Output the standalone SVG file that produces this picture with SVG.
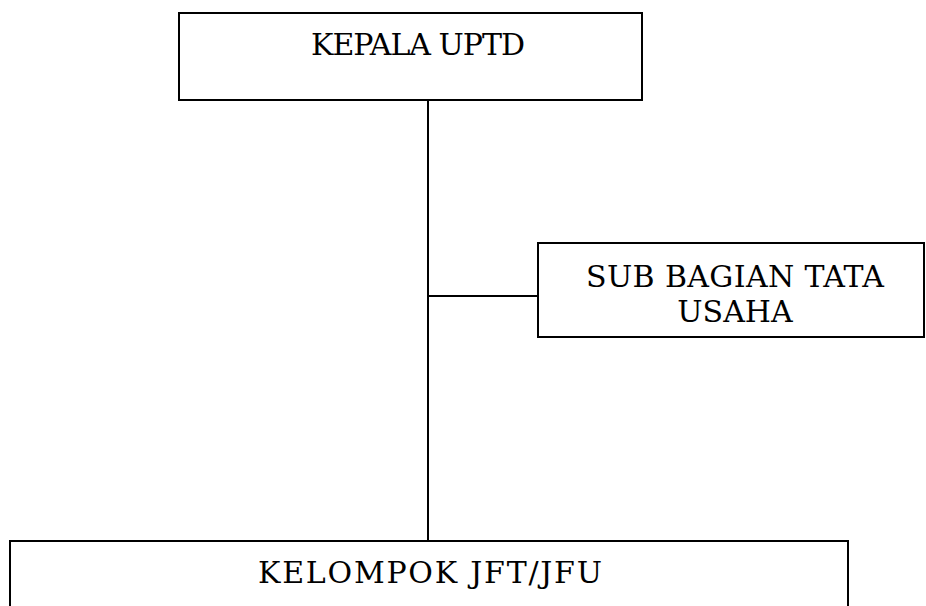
<svg xmlns="http://www.w3.org/2000/svg" width="926" height="606" viewBox="0 0 926 606">
<style>
.box{fill:#fff;stroke:#000;stroke-width:2}
.ln{stroke:#000;stroke-width:2;fill:none}
.t{font-family:"DejaVu Serif","Liberation Serif",serif;font-size:30px;fill:#000;text-anchor:middle}
</style>
<rect width="926" height="606" fill="#fff"/>
<g id="connectors">
<line class="ln" x1="428" y1="100" x2="428" y2="541"/>
<line class="ln" x1="428" y1="296" x2="538" y2="296"/>
</g>
<g id="kepala">
<rect class="box" x="179" y="13" width="463" height="87"/>
<text class="t" x="418" y="55" textLength="214">KEPALA UPTD</text>
</g>
<g id="subbagian">
<rect class="box" x="538" y="243" width="386" height="94"/>
<text class="t" x="735" y="287" textLength="298">SUB BAGIAN TATA</text>
<text class="t" x="735" y="322">USAHA</text>
</g>
<g id="kelompok">
<rect class="box" x="10" y="541" width="838" height="80"/>
<text class="t" x="430" y="583" textLength="344">KELOMPOK JFT/JFU</text>
</g>
</svg>
